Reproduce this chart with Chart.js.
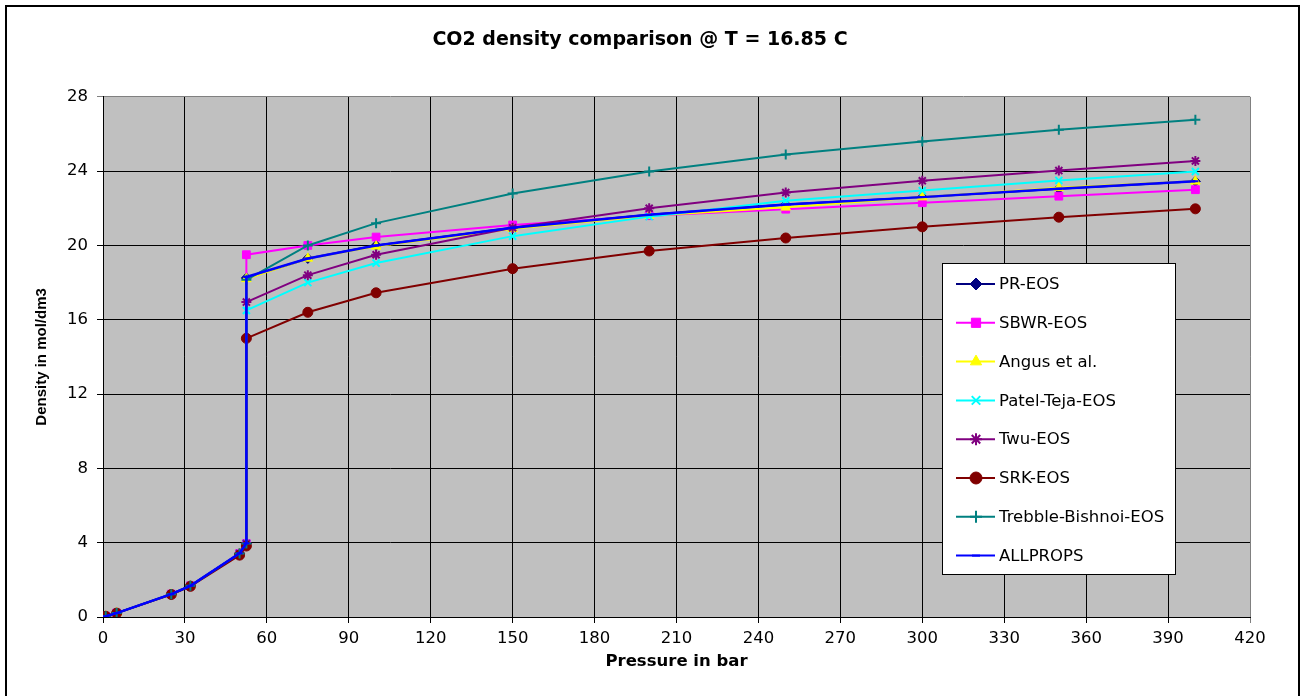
<!DOCTYPE html>
<html>
<head>
<meta charset="utf-8">
<title>CO2 density comparison</title>
<script src="https://cdn.jsdelivr.net/npm/chart.js@4.4.1/dist/chart.umd.min.js"></script>
<style>
  html, body { margin: 0; padding: 0; background: #fff; }
  canvas { display: block; }
</style>
</head>
<body>
<canvas id="myChart" width="1306" height="696"></canvas>
<script>
'use strict';

// pressures in bar (52.5 twice: vapour then liquid at saturation)
var pressure = [1, 5, 25, 32, 50, 52.5, 52.5, 75, 100, 150, 200, 250, 300, 350, 400];

// densities in mol/dm3
var prEos = [0.04, 0.21, 1.23, 1.68, 3.42, 3.95, 18.25, 19.3, 20.0, 20.95, 21.65, 22.2, 22.6, 23.05, 23.45];
var sbwrEos = [0.04, 0.21, 1.23, 1.68, 3.42, 3.95, 19.5, 20.0, 20.45, 21.1, 21.6, 21.95, 22.3, 22.65, 23.0];
var angus = [0.04, 0.21, 1.22, 1.67, 3.4, 3.92, 18.2, 19.3, 19.95, 20.9, 21.6, 22.05, 22.6, 23.1, 23.45];
var patelTeja = [0.04, 0.21, 1.23, 1.68, 3.42, 3.95, 16.5, 18.0, 19.05, 20.5, 21.55, 22.4, 22.95, 23.5, 23.98];
var twuEos = [0.04, 0.21, 1.23, 1.68, 3.42, 3.95, 16.95, 18.4, 19.5, 20.95, 22.0, 22.85, 23.48, 24.03, 24.55];
var srkEos = [0.04, 0.21, 1.21, 1.65, 3.33, 3.82, 15.0, 16.4, 17.45, 18.75, 19.7, 20.4, 21.0, 21.52, 21.97];
var trebble = [0.04, 0.21, 1.23, 1.68, 3.42, 3.95, 18.15, 20.0, 21.2, 22.8, 23.98, 24.9, 25.6, 26.22, 26.76];
var allprops = [0.04, 0.21, 1.23, 1.68, 3.43, 3.97, 18.3, 19.3, 20.0, 20.95, 21.65, 22.2, 22.6, 23.05, 23.45];

var xTicks = [0, 30, 60, 90, 120, 150, 180, 210, 240, 270, 300, 330, 360, 390, 420];
var yTicks = [0, 4, 8, 12, 16, 20, 24, 28];

var FONT = 'DejaVu Sans';

function series(label, values, color, style, radius, filled) {
  return {
    label: label,
    data: pressure.map(function (p, i) { return { x: p, y: values[i] }; }),
    borderColor: color,
    backgroundColor: color,
    borderWidth: 2,
    pointStyle: style,
    pointRadius: radius,
    pointHoverRadius: radius,
    pointBorderWidth: filled ? 1 : 2,
    pointBackgroundColor: color,
    pointBorderColor: color,
    tension: 0,
    fill: false
  };
}

var datasets = [
  series('PR-EOS', prEos, '#000080', 'rectRot', 5, true),
  series('SBWR-EOS', sbwrEos, '#FF00FF', 'rect', 5.5, true),
  series('Angus et al.', angus, '#FFFF00', 'triangle', 5.5, true),
  series('Patel-Teja-EOS', patelTeja, '#00FFFF', 'crossRot', 5, false),
  series('Twu-EOS', twuEos, '#800080', 'star', 5, false),
  series('SRK-EOS', srkEos, '#800000', 'circle', 5, true),
  series('Trebble-Bishnoi-EOS', trebble, '#008080', 'cross', 5, false),
  series('ALLPROPS', allprops, '#0000FF', 'line', 3, false)
];
// later series drawn on top, like the original
datasets.forEach(function (d, i) { d.order = datasets.length - i; });
datasets[7].borderWidth = 2.5;

// gray plot area + outer frame
var backdrop = {
  id: 'backdrop',
  beforeDraw: function (chart) {
    var ctx = chart.ctx, a = chart.chartArea;
    ctx.save();
    ctx.fillStyle = '#C0C0C0';
    ctx.fillRect(a.left, a.top, a.right - a.left, a.bottom - a.top);
    ctx.strokeStyle = '#000';
    ctx.lineWidth = 2;
    ctx.strokeRect(6, 6, 1293, 720);
    ctx.restore();
  }
};

// legend box inside the plot area
var boxLegend = {
  id: 'boxLegend',
  afterDraw: function (chart) {
    var ctx = chart.ctx;
    ctx.save();
    ctx.fillStyle = '#fff';
    ctx.fillRect(942.5, 263.5, 233, 311);
    ctx.strokeStyle = '#000';
    ctx.lineWidth = 1;
    ctx.strokeRect(942.5, 263.5, 233, 311);
    chart.data.datasets.forEach(function (d, i) {
      var y = 284 + i * 38.8;
      ctx.strokeStyle = d.borderColor;
      ctx.lineWidth = 2;
      ctx.beginPath();
      ctx.moveTo(956, y);
      ctx.lineTo(995, y);
      ctx.stroke();
      ctx.fillStyle = d.pointBackgroundColor;
      ctx.strokeStyle = d.pointBorderColor;
      ctx.lineWidth = d.pointBorderWidth;
      if (Chart.helpers && Chart.helpers.drawPoint) {
        Chart.helpers.drawPoint(ctx, {
          pointStyle: d.pointStyle,
          radius: d.pointRadius + 1,
          rotation: 0,
          borderWidth: d.pointBorderWidth
        }, 976, y);
      }
      ctx.fillStyle = '#000';
      ctx.font = '16.5px "' + FONT + '"';
      ctx.textBaseline = 'middle';
      ctx.textAlign = 'left';
      ctx.fillText(d.label, 999, y + 1);
    });
    ctx.restore();
  }
};

var ctx = document.getElementById('myChart').getContext('2d');
var chart = new Chart(ctx, {
  type: 'line',
  data: { datasets: datasets },
  options: {
    responsive: false,
    animation: false,
    events: [],
    layout: { padding: { left: 30, right: 56, top: 0, bottom: 0 } },
    plugins: {
      legend: { display: false },
      tooltip: { enabled: false },
      title: {
        display: true,
        text: 'CO2 density comparison @ T = 16.85 C',
        color: '#000',
        font: { family: FONT, size: 19, weight: 'bold' },
        padding: { top: 29, bottom: 45 }
      }
    },
    scales: {
      x: {
        type: 'linear',
        min: xTicks[0],
        max: xTicks[xTicks.length - 1],
        afterBuildTicks: function (scale) {
          scale.ticks = xTicks.map(function (v) { return { value: v }; });
        },
        afterFit: function (scale) { scale.height = 79; },
        ticks: {
          color: '#000',
          font: { family: FONT, size: 16.5 },
          padding: 6,
          maxRotation: 0,
          autoSkip: false
        },
        grid: {
          color: function (c) { return c.tick && c.tick.value === 420 ? '#808080' : '#000'; },
          lineWidth: 1,
          tickLength: 6
        },
        border: { color: '#000', width: 1 },
        title: {
          display: true,
          text: 'Pressure in bar',
          color: '#000',
          font: { family: FONT, size: 16.5, weight: 'bold' },
          padding: { top: 0, bottom: 24 }
        }
      },
      y: {
        type: 'linear',
        min: yTicks[0],
        max: yTicks[yTicks.length - 1],
        afterBuildTicks: function (scale) {
          scale.ticks = yTicks.map(function (v) { return { value: v }; });
        },
        afterFit: function (scale) { scale.width = 73; },
        ticks: {
          color: '#000',
          font: { family: FONT, size: 16.5 },
          padding: 9
        },
        grid: {
          color: function (c) { return c.tick && c.tick.value === 28 ? '#808080' : '#000'; },
          lineWidth: 1,
          tickLength: 6
        },
        border: { color: '#000', width: 1 },
        title: {
          display: true,
          text: 'Density in mol/dm3',
          color: '#000',
          font: { family: 'Liberation Sans', size: 15, weight: 'bold' },
          padding: { top: 3, bottom: 0 }
        }
      }
    }
  },
  plugins: [backdrop, boxLegend]
});
</script>
</body>
</html>
